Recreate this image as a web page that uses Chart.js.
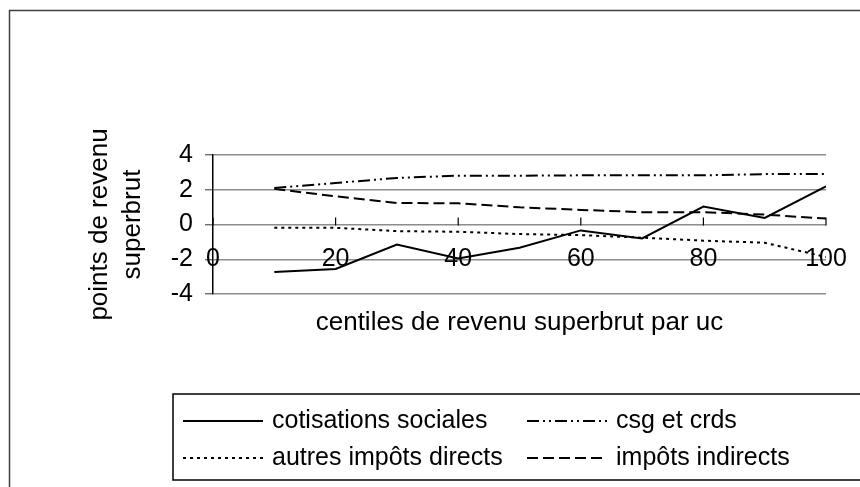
<!DOCTYPE html>
<html>
<head>
<meta charset="utf-8">
<script src="https://cdn.jsdelivr.net/npm/chart.js@4"></script>
<style>
  body { margin: 0; background: #fff; }
  #wrap { width: 860px; height: 487px; position: relative; }
</style>
</head>
<body>
<div id="wrap"><canvas id="chart"></canvas></div>
<script>
const centiles = [10, 20, 30, 40, 50, 60, 70, 80, 90, 100];
const cotisations = [-2.73, -2.56, -1.15, -1.95, -1.34, -0.34, -0.80, 1.03, 0.38, 2.2];
const csgCrds = [2.10, 2.39, 2.68, 2.81, 2.81, 2.83, 2.83, 2.83, 2.9, 2.9];
const autresDirects = [-0.19, -0.19, -0.38, -0.42, -0.55, -0.61, -0.76, -0.93, -1.05, -1.87];
const indirects = [2.05, 1.62, 1.24, 1.22, 0.99, 0.84, 0.71, 0.71, 0.57, 0.34];
const yTicks = [-4, -2, 0, 2, 4];
const xTicks = [0, 20, 40, 60, 80, 100];

const FONT = '"Liberation Sans", Arial, sans-serif';

const pts = (vals) => centiles.map((c, i) => ({ x: c, y: vals[i] }));

// small tick marks on the x axis, pointing up from the zero line
const xTickMarks = {
  id: 'xTickMarks',
  beforeDatasetsDraw(chart) {
    const ctx = chart.ctx;
    const xs = chart.scales.x;
    const y0 = chart.scales.y.getPixelForValue(0);
    ctx.save();
    ctx.strokeStyle = '#000';
    ctx.lineWidth = 1.2;
    xs.ticks.forEach(t => {
      const px = xs.getPixelForValue(t.value);
      ctx.beginPath();
      ctx.moveTo(px, y0 - 7);
      ctx.lineTo(px, y0 + 1);
      ctx.stroke();
    });
    ctx.restore();
  }
};

// frame + legend drawn by hand, two columns like the original
const frameLegend = {
  id: 'frameLegend',
  afterDraw(chart) {
    const ctx = chart.ctx;
    ctx.save();
    ctx.strokeStyle = '#404040';
    ctx.lineWidth = 1.5;
    ctx.strokeRect(9.5, 10.5, 870, 500);
    ctx.strokeStyle = '#000';
    ctx.strokeRect(173, 394, 720, 86);
    const cols = [183, 527];
    const rows = [421, 458];
    chart.data.datasets.forEach((ds, i) => {
      const x = cols[i % 2];
      const y = rows[Math.floor(i / 2)];
      ctx.beginPath();
      ctx.setLineDash(ds.borderDash || []);
      ctx.lineWidth = ds.borderWidth;
      ctx.strokeStyle = ds.borderColor;
      ctx.moveTo(x, y);
      ctx.lineTo(x + 80, y);
      ctx.stroke();
      ctx.setLineDash([]);
      ctx.fillStyle = '#000';
      ctx.font = '25px ' + FONT;
      ctx.textBaseline = 'middle';
      ctx.fillText(ds.label, x + 89, y);
    });
    ctx.restore();
  }
};

new Chart(document.getElementById('chart'), {
  type: 'line',
  data: {
    datasets: [
      { label: 'cotisations sociales', data: pts(cotisations), borderColor: '#000', borderWidth: 2, borderDash: [] },
      { label: 'csg et crds', data: pts(csgCrds), borderColor: '#000', borderWidth: 2, borderDash: [12, 4, 2, 4, 2, 4] },
      { label: 'autres impôts directs', data: pts(autresDirects), borderColor: '#000', borderWidth: 2, borderDash: [3, 4] },
      { label: 'impôts indirects', data: pts(indirects), borderColor: '#000', borderWidth: 2, borderDash: [11, 5] }
    ]
  },
  options: {
    responsive: true,
    maintainAspectRatio: false,
    animation: false,
    layout: { padding: { left: 82, right: 34, top: 155, bottom: 193 } },
    elements: { point: { radius: 0 }, line: { tension: 0 } },
    plugins: { legend: { display: false }, tooltip: { enabled: false } },
    scales: {
      x: {
        type: 'linear',
        position: { y: 0 },
        min: 0,
        max: 100,
        afterBuildTicks: (s) => { s.ticks = xTicks.map(v => ({ value: v })); },
        afterFit: (s) => { s.height = 114; s.paddingLeft = 0; s.paddingRight = 0; },
        ticks: { color: '#000', font: { family: FONT, size: 25 }, padding: 20, maxRotation: 0 },
        grid: { drawOnChartArea: false, drawTicks: false },
        border: { display: false },
        title: {
          display: true,
          text: 'centiles de revenu superbrut par uc',
          color: '#000',
          font: { family: FONT, size: 26 },
          padding: { top: 0, bottom: 0 }
        }
      },
      y: {
        min: -4,
        max: 4,
        afterBuildTicks: (s) => { s.ticks = yTicks.map(v => ({ value: v })); },
        afterFit: (s) => { s.width = 131; },
        ticks: { color: '#000', font: { family: FONT, size: 25 }, padding: 12 },
        grid: { color: '#8c8c8c', lineWidth: 1.5, tickLength: 8, tickColor: '#555', tickWidth: 1.2 },
        border: { display: true, color: '#000', width: 1.5 },
        title: {
          display: true,
          text: ['points de revenu', 'superbrut'],
          color: '#000',
          font: { family: FONT, size: 26, lineHeight: 1.25 },
          padding: { top: 2, bottom: 0 }
        }
      }
    }
  },
  plugins: [xTickMarks, frameLegend]
});
</script>
</body>
</html>
